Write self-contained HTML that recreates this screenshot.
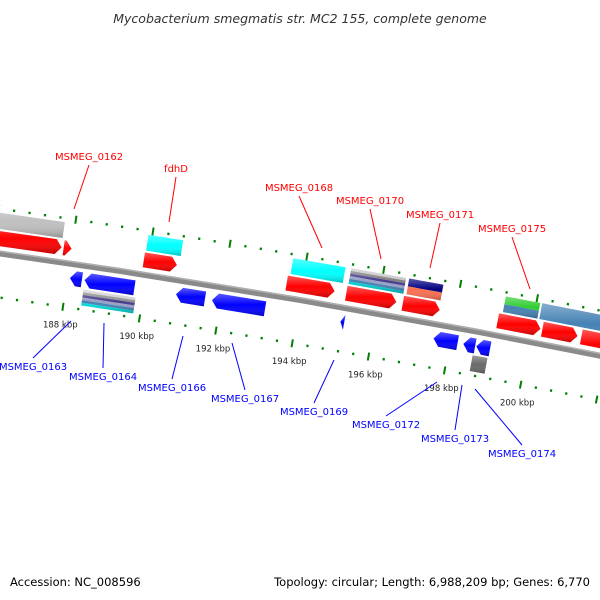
<!DOCTYPE html>
<html><head><meta charset="utf-8">
<style>
html,body{margin:0;padding:0;background:#fff;}
svg{display:block;font-family:"DejaVu Sans","Liberation Sans",sans-serif;}
</style></head>
<body>
<svg id="map" width="600" height="600" viewBox="0 0 600 600" xmlns="http://www.w3.org/2000/svg">
<defs>
<linearGradient id="gshade" x1="0" y1="0" x2="0" y2="1">
<stop offset="0" stop-color="#fff" stop-opacity="0.35"/>
<stop offset="0.5" stop-color="#fff" stop-opacity="0"/>
<stop offset="1" stop-color="#000" stop-opacity="0.25"/>
</linearGradient>
</defs>
<text x="300" y="23" text-anchor="middle" font-size="12.5" font-style="italic" fill="#333">Mycobacterium smegmatis str. MC2 155, complete genome</text>
<g id="rings"></g>
<g id="backbone"></g>
<g id="features"></g>
<g id="labels"></g>
<text x="10" y="586" font-size="11.5" fill="#000">Accession: NC_008596</text>
<text x="590" y="586" text-anchor="end" font-size="11.5" fill="#000">Topology: circular; Length: 6,988,209 bp; Genes: 6,770</text>
</svg>
<script>
// ---- data ----
const fwdStarts = [184500, 187795, 189880, 193600, 195155, 196630, 199110, 200280, 201300];
const fwdEnds   = [187742, 188000, 190740, 194850, 196460, 197595, 200230, 201200, 203500];
const revStarts = [188070, 188450, 190835, 191775, 195130, 197570, 198350, 198690];
const revEnds   = [188380, 189750, 191590, 193160, 195230, 198200, 198660, 199050];
const cogOutStarts = [184500, 189900, 193660, 195170, 196680, 199200, 200150];
const cogOutEnds   = [187730, 190800, 195020, 196600, 197570, 200100, 203500];
const cogOutColors = [["#c0c0c0"],["#00ffff"],["#00ffff"],["#c8c8c8","#808080","#483d8b","#9aa0c8","#4682b4","#00ced1"],["#000080","#fa7050"],["#32cd32","#4682b4"],["#4682b4"]];
const cogInStarts = [188460, 198640];
const cogInEnds   = [189820, 199030];
const cogInColors = [["#d0d0d0","#909090","#483d8b","#9aa0c8","#4682b4","#00dddd"],["#6a6a6a"]];
const tickStart = 184000, tickEnd = 204000, tickStep = 400, majorStep = 2000;
const tickLabels = ["188 kbp","190 kbp","192 kbp","194 kbp","196 kbp","198 kbp","200 kbp"];
const tickLabelBp = [188000,190000,192000,194000,196000,198000,200000];
const fwdLabelNames = ["MSMEG_0162","fdhD","MSMEG_0168","MSMEG_0170","MSMEG_0171","MSMEG_0175"];
const revLabelNames = ["MSMEG_0163","MSMEG_0164","MSMEG_0166","MSMEG_0167","MSMEG_0169","MSMEG_0172","MSMEG_0173","MSMEG_0174"];

// ---- geometry ----
const NS = "http://www.w3.org/2000/svg";
const cx = -1546, cy = 11144, R = 11000;
const aref = Math.atan2(299 - cy, 300 - cx);
const bpRef = 194006, pxPerBp = 0.03885;
function pt(bp, v) {
  const a = aref + (bp - bpRef) * pxPerBp / R;
  const r = R - v;
  return [cx + r * Math.cos(a), cy + r * Math.sin(a)];
}
function bpShift(px) { return px / pxPerBp; }
function mk(tag, attrs, parent) {
  const e = document.createElementNS(NS, tag);
  for (const k in attrs) e.setAttribute(k, attrs[k]);
  parent.appendChild(e);
  return e;
}
function polyStr(list) { return list.map(p => p[0].toFixed(2) + "," + p[1].toFixed(2)).join(" "); }
function band(b1, b2, v1, v2) {
  const pts = [];
  const n = 6;
  for (let i = 0; i <= n; i++) pts.push(pt(b1 + (b2 - b1) * i / n, v1));
  for (let i = n; i >= 0; i--) pts.push(pt(b1 + (b2 - b1) * i / n, v2));
  return pts;
}
function arrow(b1, b2, v1, v2, dir) {
  const h = Math.min(bpShift(6), b2 - b1);
  const vm = (v1 + v2) / 2;
  if (dir > 0) {
    return [pt(b1, v1), pt(b2 - h, v1), pt(b2, vm), pt(b2 - h, v2), pt(b1, v2)];
  }
  return [pt(b1 + h, v1), pt(b2, v1), pt(b2, v2), pt(b1 + h, v2), pt(b1, vm)];
}

const rings = document.getElementById("rings");
const bbG = document.getElementById("backbone");
const feat = document.getElementById("features");
const labs = document.getElementById("labels");

// backbone
const bb = mk("polygon", {points: polyStr(band(180000, 208000, -3, 3)), fill: "#8a8a8a"}, bbG);


const bbHi = mk("polygon", {points: polyStr(band(180000, 208000, -3, -1.5)), fill: "#b0b0b0"}, bbG);



// rings
[-44, 44].forEach(function (rv) {
  for (let b = tickStart; b <= tickEnd; b += tickStep) {
    const major = b % majorStep === 0;
    const len = major ? 4 : 1.2;
    const p1 = pt(b, rv - len), p2 = pt(b, rv + len);
    const t = mk("line", {x1: p1[0], y1: p1[1], x2: p2[0], y2: p2[1], stroke: "#008000", "stroke-width": major ? 2 : 2.2}, rings);
    
    
  }
});
tickLabels.forEach(function (lbl, i) {
  const p = pt(tickLabelBp[i], 62);
  const t = mk("text", {x: p[0], y: p[1] + 3, "text-anchor": "middle", "font-size": "8.5", fill: "#222"}, rings);
  t.textContent = lbl;
  
  
});

function drawStriped(b1, b2, v1, v2, colors, name) {
  const n = colors.length;
  colors.forEach(function (c, i) {
    const a = v1 + (v2 - v1) * i / n, z = v1 + (v2 - v1) * (i + 1) / n;
    const p = mk("polygon", {points: polyStr(band(b1, b2, a, z)), fill: c}, feat);
    
    
  });
  const s = mk("polygon", {points: polyStr(band(b1, b2, v1, v2)), fill: "url(#gshade)"}, feat);
  
  
}
cogOutStarts.forEach(function (s, i) { drawStriped(s, cogOutEnds[i], -40, -24, cogOutColors[i], 'cog-forward'); });
cogInStarts.forEach(function (s, i) { drawStriped(s, cogInEnds[i], 24, 40, cogInColors[i], 'cog-reverse'); });

function drawArrow(b1, b2, v1, v2, dir, color, name) {
  const pts = polyStr(arrow(b1, b2, v1, v2, dir));
  const p = mk("polygon", {points: pts, fill: color}, feat);
  
  
  const s = mk("polygon", {points: pts, fill: "url(#gshade)"}, feat);
  
  
}
fwdStarts.forEach(function (s, i) { drawArrow(s, fwdEnds[i], -22, -7, 1, "#ff0000", 'forward-gene'); });
revStarts.forEach(function (s, i) { drawArrow(s, revEnds[i], 7, 22, -1, "#0000ff", 'reverse-gene'); });

// gene labels (layout positions)
const fwdLabelPos = [[89,160],[176,172],[299,191],[370,204],[440,218],[512,232]];
const fwdLineEnd = [[74,209],[169,222],[322,248],[381,259],[430,268],[530,289]];
const revLabelPos = [[33,370],[103,380],[172,391],[245,402],[314,415],[386,428],[455,442],[522,457]];
const revLineEnd = [[71,321],[104,323],[183,336],[232,343],[334,360],[437,382],[462,385],[475,389]];
function drawLabel(name, pos, end, color, up) {
  const ly = up ? pos[1] + 5 : pos[1] - 12;
  const l = mk("line", {x1: pos[0], y1: ly, x2: end[0], y2: end[1], stroke: color, "stroke-width": 1}, labs);
  
  
  const t = mk("text", {x: pos[0], y: pos[1], "text-anchor": "middle", "font-size": "10", fill: color}, labs);
  t.textContent = name;
  
  
}
fwdLabelNames.forEach(function (n, i) { drawLabel(n, fwdLabelPos[i], fwdLineEnd[i], "#ff0000", true); });
revLabelNames.forEach(function (n, i) { drawLabel(n, revLabelPos[i], revLineEnd[i], "#0000ff", false); });
</script>
</body></html>
